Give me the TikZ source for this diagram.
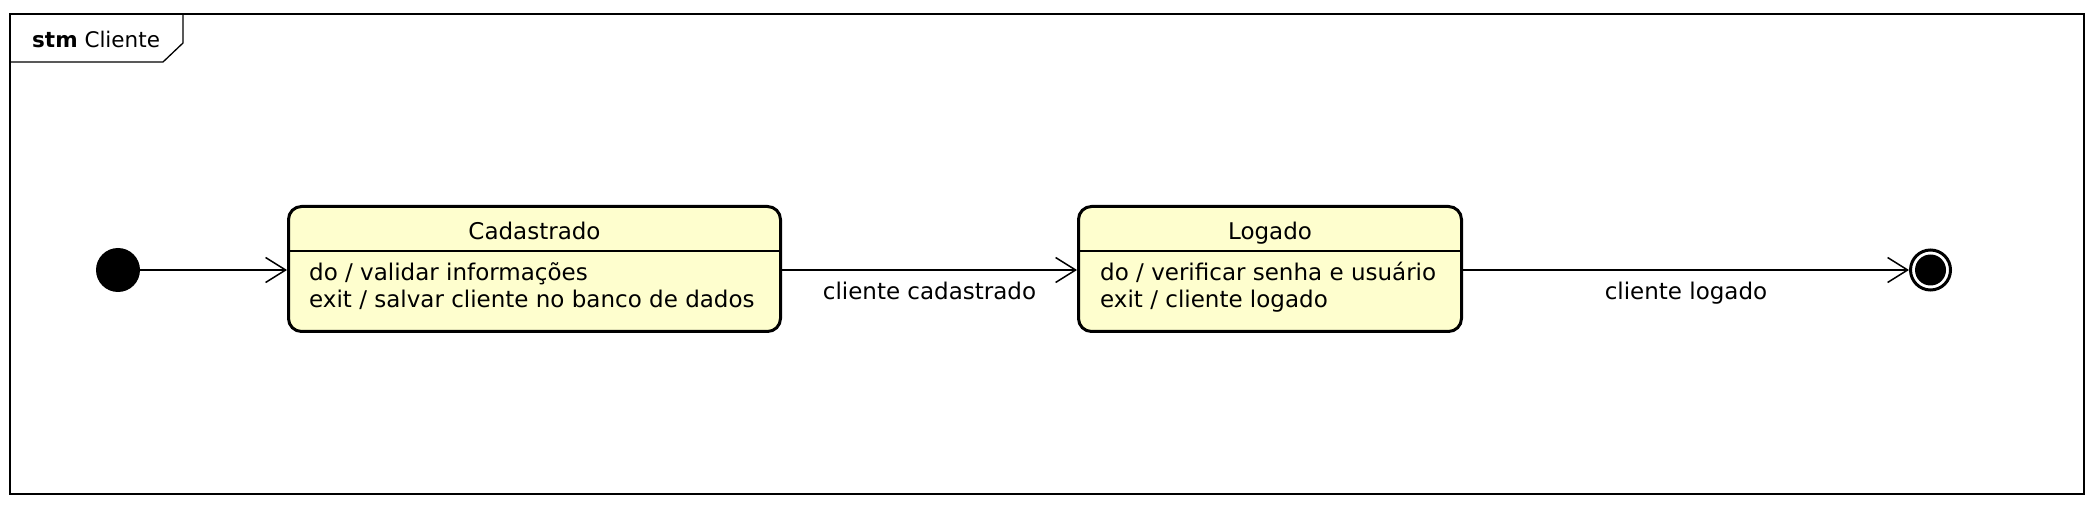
\documentclass[tikz,border=0pt]{standalone}
\usepackage{fontspec}
\setmainfont{DejaVu Sans}
\usepackage{tikz}
\usetikzlibrary{arrows.meta,positioning}

\definecolor{statefill}{HTML}{FEFECE}

\tikzset{
  state/.style={draw, line width=3pt, rounded corners=13pt, fill=statefill, inner sep=0pt},
  txt/.style={inner sep=0pt, font=\fontsize{23}{27}\selectfont},
  trans/.style={line width=1.5pt, -{Straight Barb[length=20pt,width=25pt,line width=1.5pt]}},
  initial/.style={circle, fill=black, minimum size=44pt, inner sep=0pt},
  final/.style={circle, draw, line width=3pt, minimum size=40pt, inner sep=0pt,
    path picture={\fill (path picture bounding box.center) circle (15.5pt);}}
}

\begin{document}
\begin{tikzpicture}[x=1pt,y=-1pt]
  \useasboundingbox (0,0) rectangle (2098,510);
  \begin{scope}
    \def\ybar{251}
    \def\yrow{270}
    \def\ytitle{240}

    \draw[line width=2pt] (10,14) rectangle (2084,494);
    \draw[line width=1.3pt] (183,14) -- (183,43) -- (163,62) -- (10,62);
    \node[txt, font=\fontsize{21.5}{27}\selectfont, anchor=base west] (frame) at (32,48) {\textbf{stm} Cliente};

    \node[initial] (ini) at (118,\yrow) {};
    \node[state, minimum width=492pt, minimum height=125pt] (cad) at (534.5,269) {};
    \node[state, minimum width=383pt, minimum height=125pt] (log) at (1270,269) {};
    \node[final] (fim) at (1930.5,\yrow) {};

    \foreach \s/\name in {cad/Cadastrado, log/Logado} {
      \node[txt, anchor=base] (\s-title) at (\s.center |- 0,\ytitle) {\name};
      \draw[line width=1.3pt] (\s.west |- 0,\ybar) -- (\s.east |- 0,\ybar);
    }
    \node[txt, anchor=base west, align=left] (cad-body) at (309,308)
      {do / validar informações\\exit / salvar cliente no banco de dados};
    \node[txt, anchor=base west, align=left] (log-body) at (1100,308)
      {do / verificar senha e usuário\\exit / cliente logado};

    \draw[trans] (ini) -- (ini -| cad.west);
    \draw[trans] (cad.east |- ini) -- (log.west |- ini)
      node[txt, midway, anchor=base, yshift=-30pt] (cad-log) {cliente cadastrado};
    \draw[trans] (log.east |- fim) -- (fim)
      node[txt, midway, anchor=base, yshift=-30pt] (log-fim) {cliente logado};
  \end{scope}
\end{tikzpicture}
\end{document}
